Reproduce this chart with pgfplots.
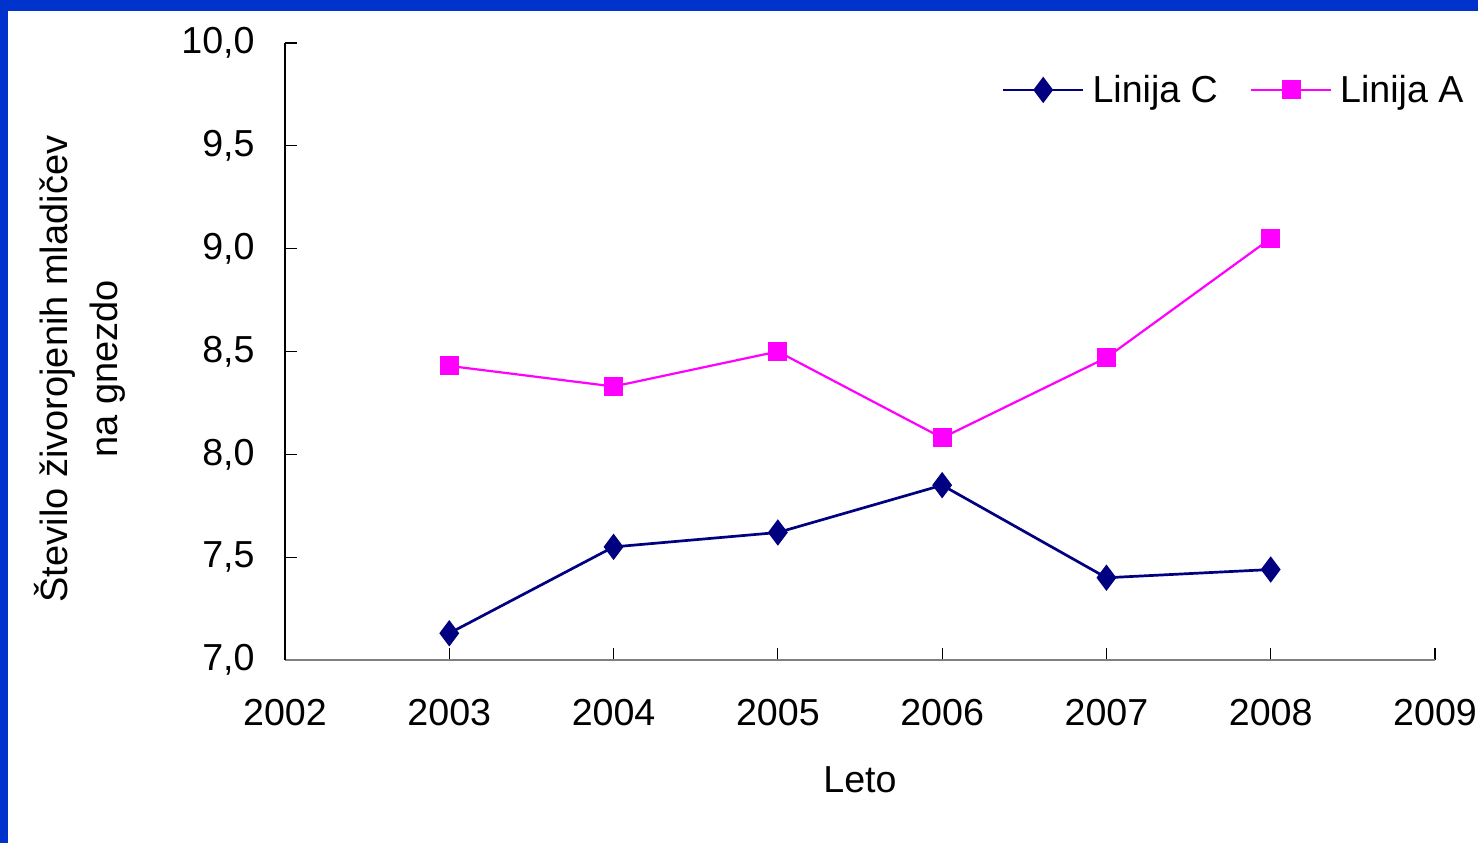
\documentclass[border=0pt]{standalone}
\usepackage{fontspec}
\setmainfont{Liberation Sans}
\usepackage{pgfplots}
\pgfplotsset{compat=1.18}
\definecolor{bordblue}{RGB}{0,51,204}
\definecolor{navyc}{RGB}{0,0,128}
\definecolor{magc}{RGB}{255,0,255}
\begin{document}
\begin{tikzpicture}
\fill[white] (-142.5pt,-91.5pt) rectangle (596.5pt,330pt);
\begin{axis}[
  at={(0,0)}, anchor=south west,
  scale only axis, width=575pt, height=308.5pt,
  xmin=2002, xmax=2009, ymin=7, ymax=10,
  axis lines*=left,
  x axis line style={draw=gray, -, line width=0.8pt},
  y axis line style={draw=black, -, line width=0.8pt},
  xtick={2002,2003,2004,2005,2006,2007,2008,2009},
  xticklabels={2002,2003,2004,2005,2006,2007,2008,2009},
  ytick={7,7.5,8,8.5,9,9.5,10},
  yticklabels={{7,0},{7,5},{8,0},{8,5},{9,0},{9,5},{10,0}},
  tick align=inside, major tick length=6pt,
  tick style={draw=black, line width=0.6pt},
  xticklabel style={anchor=center, yshift=-26.5pt, inner sep=0pt},
  yticklabel style={anchor=east, inner sep=0pt, xshift=-15pt},
  tick label style={font=\fontsize{18.8pt}{22pt}\selectfont},
  clip=false,
  legend columns=2,
  legend style={at={(0.623,0.924)}, anchor=west, draw=none, fill=none,
    inner sep=0pt, font=\fontsize{18.8pt}{22pt}\selectfont,
    nodes={inner sep=0pt},
    /tikz/every odd column/.append style={column sep=4pt},
    /tikz/every even column/.append style={column sep=16pt}},
  legend image code/.code={\draw[mark repeat=2,mark phase=2,#1] plot coordinates {(0pt,0pt) (20pt,0pt) (40pt,0pt)};},
]
\addplot[navyc, line width=1.35pt, mark=diamond*, mark size=5.5pt, mark options={solid, fill=navyc}]
  coordinates {(2003,7.13) (2004,7.55) (2005,7.62) (2006,7.85) (2007,7.40) (2008,7.44)};
\addlegendentry{Linija C}
\addplot[magc, line width=1.1pt, mark=square*, mark size=4.2pt, mark options={solid, fill=magc}]
  coordinates {(2003,8.43) (2004,8.33) (2005,8.50) (2006,8.08) (2007,8.47) (2008,9.05)};
\addlegendentry{Linija A}
\end{axis}
\node[rotate=90, align=center, font=\fontsize{19pt}{25pt}\selectfont] at (-102.5pt,145.5pt)
  {Število živorojenih mladičev\\na gnezdo};
\node[font=\fontsize{18.8pt}{22pt}\selectfont] at (287.5pt,-60pt) {Leto};
\fill[bordblue] (-142.5pt,324.7pt) rectangle (596.5pt,330pt);
\fill[bordblue] (-142.5pt,-91.5pt) rectangle (-138.3pt,330pt);
\pgfresetboundingbox
\path[use as bounding box] (-142.5pt,-91.5pt) rectangle (596.5pt,330pt);
\end{tikzpicture}
\end{document}
